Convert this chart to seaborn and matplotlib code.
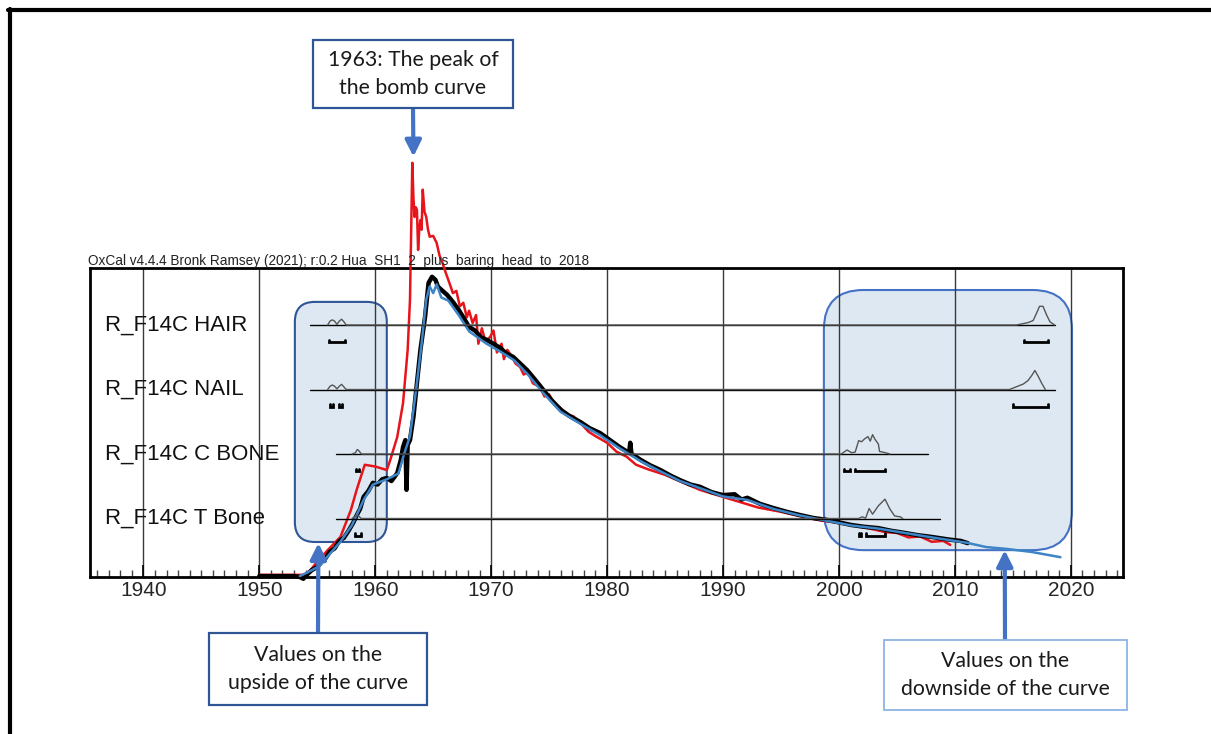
import matplotlib
matplotlib.use('Agg')
import numpy as np
import pandas as pd
import seaborn as sns
import matplotlib.pyplot as plt
from matplotlib.patches import FancyBboxPatch, Rectangle
from matplotlib.lines import Line2D

# --- calibration curves (year AD, F14C) ---
red_year = [1950.0, 1953.9, 1954.4, 1955.0, 1955.9, 1957.0, 1957.9, 1958.4, 1959.1, 1960.0,
            1961.0, 1961.3, 1961.9, 1962.4, 1962.8, 1963.0, 1963.1, 1963.2, 1963.3, 1963.4,
            1963.5, 1963.6, 1963.7, 1963.8, 1963.9, 1964.0, 1964.1, 1964.25, 1964.4, 1964.55,
            1964.7, 1965.0, 1965.3, 1965.55, 1965.8, 1966.1, 1966.4, 1966.7, 1967.0, 1967.3,
            1967.6, 1967.9, 1968.1, 1968.4, 1968.7, 1968.9, 1969.2, 1969.5, 1969.9, 1970.2,
            1970.5, 1970.9, 1971.1, 1971.4, 1971.8, 1972.1, 1972.5, 1972.8, 1973.2, 1973.6,
            1974.2, 1974.6, 1975.0, 1975.5, 1975.9, 1976.5, 1977.1, 1977.7, 1978.4, 1979.0,
            1980.0, 1980.8, 1981.7, 1982.5, 1983.5, 1985.0, 1986.5, 1988.0, 1990.0, 1991.5,
            1993.0, 1995.0, 1997.0, 1998.5, 2000.0, 2001.5, 2003.0, 2004.0, 2005.0, 2006.0,
            2007.0, 2008.0, 2009.0, 2009.6]
red_f14c = [0.975, 0.975, 0.985, 1.005, 1.031, 1.061, 1.122, 1.168, 1.225, 1.221,
            1.213, 1.236, 1.288, 1.365, 1.486, 1.600, 1.752, 1.911, 1.830, 1.788,
            1.810, 1.804, 1.713, 1.760, 1.781, 1.759, 1.850, 1.800, 1.788, 1.760,
            1.743, 1.745, 1.729, 1.700, 1.684, 1.660, 1.638, 1.615, 1.620, 1.585,
            1.593, 1.560, 1.575, 1.547, 1.565, 1.500, 1.535, 1.505, 1.515, 1.530,
            1.480, 1.500, 1.465, 1.486, 1.470, 1.455, 1.447, 1.430, 1.435, 1.410,
            1.402, 1.380, 1.385, 1.360, 1.356, 1.340, 1.335, 1.320, 1.300, 1.290,
            1.275, 1.255, 1.243, 1.225, 1.215, 1.202, 1.185, 1.168, 1.152, 1.140,
            1.128, 1.118, 1.106, 1.098, 1.093, 1.086, 1.078, 1.072, 1.070, 1.060,
            1.062, 1.050, 1.052, 1.043]

black_year = [1950.0, 1953.0, 1953.5, 1953.8, 1954.1, 1954.5, 1955.0, 1955.4, 1955.7, 1956.1,
              1956.5, 1956.9, 1957.3, 1957.7, 1958.1, 1958.4, 1958.7, 1959.0, 1959.4, 1959.8,
              1960.2, 1960.6, 1961.0, 1961.4, 1961.9, 1962.2, 1962.4, 1962.6, 1962.7, 1962.8,
              1963.0, 1963.3, 1963.6, 1963.9, 1964.3, 1964.6, 1964.9, 1965.2, 1965.4, 1965.6,
              1965.9, 1966.2, 1966.7, 1967.2, 1967.6, 1968.1, 1968.6, 1969.1, 1969.6, 1970.2,
              1970.8, 1971.3, 1971.9, 1972.5, 1973.1, 1973.8, 1974.5, 1975.2, 1976.0, 1976.8,
              1977.7, 1978.5, 1979.4, 1980.2, 1981.1, 1981.9, 1982.0, 1982.1, 1982.9, 1983.7,
              1984.6, 1985.5, 1986.3, 1987.2, 1988.0, 1989.0, 1990.0, 1991.0, 1991.6, 1992.1,
              1993.2, 1994.3, 1995.5, 1996.6, 1997.8, 1998.9, 2000.0, 2001.1, 2002.2, 2003.4,
              2004.5, 2005.7, 2006.8, 2008.0, 2009.5, 2010.5, 2011.1]
black_f14c = [0.972, 0.972, 0.970, 0.966, 0.975, 0.985, 0.993, 1.005, 1.012, 1.028,
              1.035, 1.052, 1.059, 1.075, 1.093, 1.110, 1.125, 1.152, 1.165, 1.184,
              1.180, 1.192, 1.195, 1.188, 1.206, 1.235, 1.265, 1.281, 1.168, 1.270,
              1.281, 1.334, 1.411, 1.486, 1.561, 1.638, 1.652, 1.645, 1.630, 1.625,
              1.618, 1.611, 1.595, 1.577, 1.560, 1.538, 1.530, 1.515, 1.509, 1.500,
              1.490, 1.478, 1.470, 1.455, 1.440, 1.418, 1.395, 1.372, 1.350, 1.335,
              1.322, 1.308, 1.297, 1.282, 1.265, 1.252, 1.275, 1.250, 1.236, 1.224,
              1.213, 1.200, 1.190, 1.180, 1.175, 1.163, 1.156, 1.158, 1.146, 1.150,
              1.136, 1.127, 1.118, 1.111, 1.104, 1.100, 1.094, 1.088, 1.084, 1.081,
              1.075, 1.070, 1.065, 1.061, 1.055, 1.052, 1.047]

blue_year = [1953.5, 1954.5, 1955.2, 1956.0, 1957.0, 1958.0, 1959.0, 1959.8, 1961.0, 1962.0,
             1962.5, 1963.0, 1963.5, 1964.0, 1964.4, 1964.7, 1965.0, 1965.3, 1965.7, 1966.3,
             1967.2, 1968.1, 1969.6, 1970.8, 1972.0, 1973.1, 1974.5, 1976.0, 1977.7, 1979.4,
             1981.1, 1982.9, 1984.6, 1986.3, 1988.0, 1990.0, 1992.1, 1994.3, 1996.6, 1998.9,
             2001.1, 2003.4, 2005.7, 2008.0, 2011.0, 2012.7, 2014.4, 2016.6, 2019.1]
blue_f14c = [0.972, 0.985, 0.995, 1.020, 1.050, 1.088, 1.145, 1.180, 1.192, 1.205,
             1.250, 1.290, 1.390, 1.500, 1.600, 1.630, 1.615, 1.635, 1.605, 1.598,
             1.565, 1.528, 1.500, 1.482, 1.462, 1.432, 1.388, 1.345, 1.318, 1.292,
             1.262, 1.233, 1.210, 1.188, 1.172, 1.153, 1.145, 1.125, 1.110, 1.098,
             1.087, 1.080, 1.070, 1.060, 1.048, 1.038, 1.034, 1.027, 1.015]

# --- sample rows: names, row position, extent of the row line ---
row_names = ['R_F14C HAIR', 'R_F14C NAIL', 'R_F14C C BONE', 'R_F14C T Bone']
row_pos = [4, 3, 2, 1]
row_start = [1954.4, 1954.4, 1956.6, 1956.6]
row_end = [2018.6, 2018.6, 2007.7, 2008.7]

# probability distributions (year, relative height) for each row
hair_year = [1955.9, 1956.1, 1956.3, 1956.5, 1956.7, 1956.9, 1957.1, 1957.3, 1957.5,
             2015.3, 2016.3, 2016.75, 2017.05, 2017.3, 2017.6, 2017.9, 2018.2, 2018.6]
hair_prob = [0, 0.06, 0.08, 0.06, 0.01, 0.06, 0.09, 0.05, 0,
             0, 0.037, 0.069, 0.186, 0.29, 0.29, 0.16, 0.05, 0]
nail_year = [1955.9, 1956.1, 1956.3, 1956.5, 1956.7, 1956.9, 1957.1, 1957.3, 1957.5,
             2014.7, 2015.3, 2015.9, 2016.3, 2016.6, 2016.9, 2017.2, 2017.5, 2017.8]
nail_prob = [0, 0.05, 0.07, 0.05, 0.01, 0.05, 0.08, 0.04, 0,
             0, 0.042, 0.085, 0.138, 0.21, 0.295, 0.2, 0.093, 0]
cbone_year = [1958.0, 1958.3, 1958.45, 1958.6, 1958.8,
              2000.2, 2000.7, 2001.1, 2001.4, 2001.7, 2001.95, 2002.2, 2002.5, 2002.7,
              2002.9, 2003.1, 2003.4, 2003.5, 2004.0, 2004.4]
cbone_prob = [0, 0.02, 0.07, 0.05, 0,
              0, 0.062, 0.02, 0.03, 0.207, 0.19, 0.233, 0.27, 0.2,
              0.3, 0.23, 0.155, 0.04, 0.02, 0]
tbone_year = [1958.0, 1958.3, 1958.5, 1958.8,
              2001.7, 2002.0, 2002.3, 2002.6, 2002.9, 2003.4, 2003.97, 2004.4, 2004.8,
              2005.3, 2005.5]
tbone_prob = [0, 0.04, 0.05, 0,
              0, 0.026, 0.005, 0.155, 0.067, 0.197, 0.3, 0.145, 0.04, 0.025, 0]
dist_years = [hair_year, nail_year, cbone_year, tbone_year]
dist_probs = [hair_prob, nail_prob, cbone_prob, tbone_prob]

# highest probability ranges drawn as brackets under each row
hair_ranges = [(1956.0, 1957.4), (2016.0, 2018.0)]
nail_ranges = [(1956.1, 1956.35), (1956.9, 1957.15), (2015.0, 2018.0)]
cbone_ranges = [(1958.35, 1958.6), (2000.4, 2000.95), (2001.4, 2004.0)]
tbone_ranges = [(1958.3, 1958.8), (2001.7, 2001.9), (2002.3, 2004.0)]
all_ranges = [hair_ranges, nail_ranges, cbone_ranges, tbone_ranges]

decades = list(range(1940, 2021, 10))

W, H = 1211, 734


def fx(px):
    return px / W


def fy(py):
    return 1 - py / H


sns.set_style('white')
plt.rcParams['font.family'] = ['Liberation Sans', 'DejaVu Sans']

fig = plt.figure(figsize=(W / 100, H / 100), dpi=100)
ax = fig.add_axes([fx(90), fy(577), (1123 - 90) / W, (577 - 268) / H])
ax.set_xlim(1935.4, 2024.5)
ax.set_ylim(0.97, 1.672)

curves = {
    'red': (red_year, red_f14c, '#e8141b', 1.8),
    'black': (black_year, black_f14c, 'black', 3.2),
    'blue': (blue_year, blue_f14c, '#3d85c6', 1.8),
}
for name, (yr, f, col, lw) in curves.items():
    df = pd.DataFrame({'year': yr, 'f14c': f})
    sns.lineplot(data=df, x='year', y='f14c', ax=ax, color=col, lw=lw,
                 estimator=None, sort=False, clip_on=False, zorder=3)

ax.set_xticks(decades)
ax.set_xticks(range(1936, 2025), minor=True)
ax.set_yticks([])
ax.set_xlabel('')
ax.set_ylabel('')
ax.grid(axis='x', color='#3a3a3a', lw=1.0, zorder=1)
ax.tick_params(axis='x', which='both', bottom=True, top=False)
ax.tick_params(axis='x', which='major', direction='in', length=9, width=1.2,
               labelsize=15, pad=3, color='black')
ax.tick_params(axis='x', which='minor', direction='in', length=5, width=1, color='#444')
for s in ax.spines.values():
    s.set_color('black')
    s.set_linewidth(2)

# rounded highlight boxes behind the curves (corner radius kept round via aspect)
px_per_x = ax.bbox.width / (2024.5 - 1935.4)
px_per_y = ax.bbox.height / (1.672 - 0.97)
aspect = px_per_x / px_per_y
hl_boxes = [((1953.07, 1.0495), 7.93, 0.5455, 1.72, '#2f5597'),
            ((1998.7, 1.031), 21.4, 0.591, 3.4, '#4472c4')]
for (x0, y0), w, h, r, ec in hl_boxes:
    ax.add_patch(FancyBboxPatch((x0, y0), w, h, boxstyle=f'round,pad=0,rounding_size={r}',
                                mutation_aspect=aspect, facecolor='#dee8f2', edgecolor=ec,
                                lw=1.5, zorder=0.5))

# sample rows on a second y scale
ax2 = ax.twinx()
ax2.set_ylim(0.093, 4.884)
ax2.set_yticks([])
for s in ax2.spines.values():
    s.set_visible(False)
for name, r, x0, x1, yr, pr, rng in zip(row_names, row_pos, row_start, row_end,
                                        dist_years, dist_probs, all_ranges):
    ax2.plot([x0, x1], [r, r], color='black', lw=1.0, zorder=2)
    ax2.plot(yr, np.array(pr) + r, color='#555555', lw=1.0, zorder=2)
    for a, b in rng:
        ax2.plot([a, a, b, b], [r - 0.225, r - 0.265, r - 0.265, r - 0.225],
                 color='black', lw=2, solid_joinstyle='miter', zorder=2)
    ax2.text(1936.7, r, name, fontsize=16, va='center', ha='left', color='#111')

fig.text(fx(88), fy(265.5), 'OxCal v4.4.4 Bronk Ramsey (2021); r:0.2 Hua_SH1_2_plus_baring_head_to_2018',
         fontsize=9.8, va='baseline', ha='left', color='#222')

# callout boxes and arrows
callouts = [((313, 40, 513, 108), '1963: The peak of\nthe bomb curve', '#2f5597', 1.6),
            ((209, 633, 427, 705), 'Values on the\nupside of the curve', '#2f5597', 1.6),
            ((884, 640, 1127, 710), 'Values on the\ndownside of the curve', '#8eb4e3', 1.3)]
for (l, t, rr, b), txt, ec, lw in callouts:
    fig.add_artist(Rectangle((fx(l), fy(b)), (rr - l) / W, (b - t) / H,
                             transform=fig.transFigure, facecolor='white', edgecolor=ec, lw=lw))
    fig.text(fx((l + rr) / 2), fy((t + b) / 2), txt, ha='center', va='center',
             fontsize=15.3, family=['Lato', 'DejaVu Sans'], linespacing=1.5, color='#1a1a1a')

arrows = [((413, 108), (1963.3, 1.925)),
          ((318, 633), (1955.1, 1.047)),
          ((1005, 640), (2014.3, 1.031))]
for (sx, sy), target in arrows:
    ax.annotate('', xy=target, xycoords='data', xytext=(fx(sx), fy(sy)),
                textcoords='figure fraction', annotation_clip=False,
                arrowprops=dict(arrowstyle='-|>', color='#4472c4', lw=3,
                                mutation_scale=24, shrinkA=0, shrinkB=0))

# page frame lines on top and left
fig.add_artist(Line2D([fx(8), 1], [fy(10), fy(10)], color='black', lw=3))
fig.add_artist(Line2D([fx(9.5), fx(9.5)], [0, fy(8.5)], color='black', lw=3))

fig.savefig('out.png', dpi=100)
